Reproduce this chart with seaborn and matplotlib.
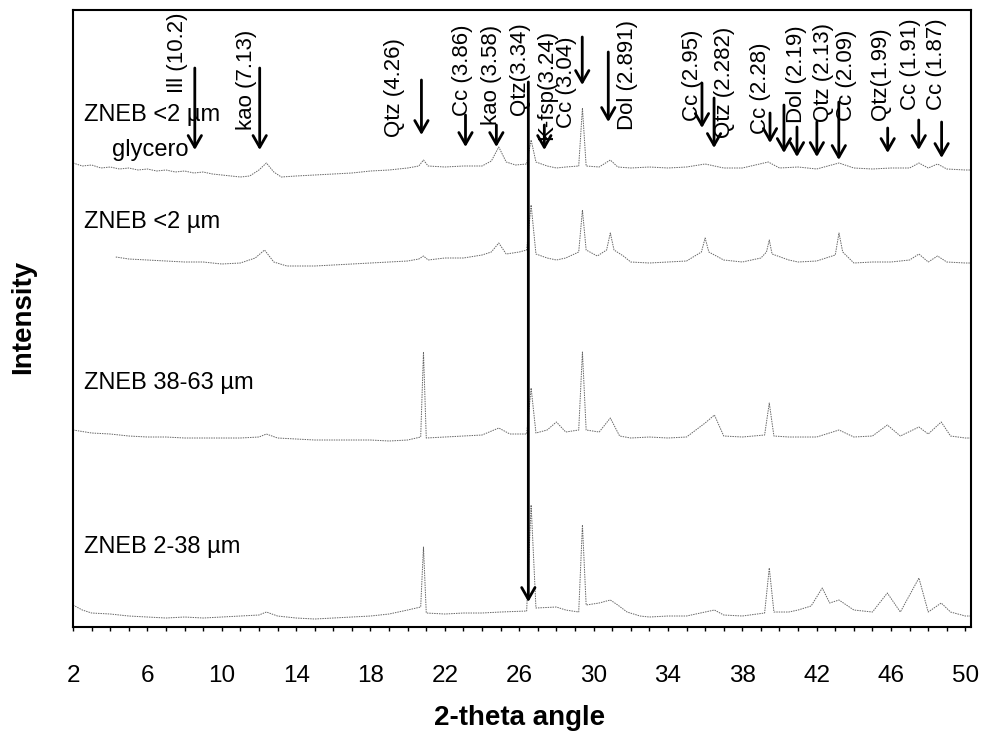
import matplotlib
matplotlib.use("Agg")
import matplotlib.pyplot as plt
import seaborn as sns
from matplotlib.ticker import MultipleLocator

# XRD patterns, stacked (arbitrary intensity units, offsets included)
tt_glycol = [2.0, 2.5, 3.0, 3.5, 4.0, 4.5, 5.0, 5.5, 6.0, 6.5, 7.0, 7.5, 8.0, 8.5, 9.0, 9.5,
             10.0, 10.5, 11.0, 11.5, 12.0, 12.4, 12.8, 13.2, 14.0, 15.0, 16.0, 17.0, 18.0, 19.0,
             20.0, 20.6, 20.85, 21.1, 22.0, 23.0, 24.0, 24.5, 24.9, 25.3, 25.8, 26.4, 26.64, 26.9,
             27.5, 28.0, 28.5, 29.2, 29.4, 29.6, 30.3, 30.9, 31.3, 32.0, 33.0, 34.0, 35.0, 36.0,
             36.5, 37.0, 38.0, 39.4, 40.0, 41.0, 42.0, 43.2, 44.0, 45.0, 46.0, 47.0, 47.5, 48.0,
             48.5, 49.0, 50.0, 50.3]
int_glycol = [464, 461, 462, 459, 460, 458, 459, 457, 458, 456, 457, 455, 456, 454, 455, 453,
              452, 451, 450, 451, 457, 464, 455, 450, 451, 452, 453, 454, 456, 457,
              459, 461, 467, 461, 460, 461, 461, 466, 480, 465, 462, 463, 487, 465,
              461, 459, 460, 461, 519, 461, 460, 467, 460, 459, 460, 459, 460, 463,
              461, 459, 459, 465, 459, 460, 458, 464, 459, 458, 459, 459, 464, 459,
              463, 458, 457, 457]

tt_clay = [4.3, 5, 6, 7, 8, 9, 10, 11, 11.8, 12.3, 12.8, 13.5, 14, 15, 16, 17, 18, 19, 20,
           20.6, 20.85, 21.1, 22, 23, 24, 24.5, 24.9, 25.3, 26, 26.4, 26.64, 26.9, 27.5, 28,
           28.5, 29.2, 29.4, 29.6, 30.2, 30.7, 30.9, 31.1, 31.6, 32, 33, 34, 35, 35.8, 36.0,
           36.2, 37, 38, 39.0, 39.3, 39.45, 39.6, 40.5, 41, 42, 43.0, 43.2, 43.4, 44, 45, 46,
           47, 47.5, 48, 48.5, 49, 50, 50.3]
int_clay = [370, 368, 367, 366, 365, 365, 363, 364, 369, 377, 365, 361, 361, 361, 362, 363, 364, 365, 366,
            368, 371, 367, 369, 369, 372, 375, 384, 373, 375, 377, 422, 373, 369, 367,
            369, 375, 417, 377, 371, 377, 394, 377, 371, 365, 364, 365, 366, 375, 389,
            375, 367, 365, 369, 375, 387, 373, 367, 365, 366, 372, 394, 375, 364, 365, 365,
            367, 373, 365, 371, 365, 364, 364]

tt_coarse = [2.0, 3, 4, 5, 6, 7, 8, 9, 10, 11, 12, 12.4, 13, 14, 15, 16, 17, 18, 19, 20,
             20.7, 20.85, 21.0, 22, 23, 24, 24.9, 25.5, 26.4, 26.64, 26.9, 27.5, 28, 28.5,
             29.2, 29.4, 29.6, 30.3, 30.9, 31.4, 32, 33, 34, 35, 36.0, 36.5, 37, 38, 39.2,
             39.45, 39.7, 40.5, 41, 42, 43.2, 44, 45, 45.8, 46.5, 47.5, 48, 48.7, 49.2, 50, 50.3]
int_coarse = [197, 194, 193, 191, 190, 190, 189, 189, 189, 189, 190, 193, 189, 188, 187, 187, 187, 187, 186, 187,
              190, 275, 189, 190, 191, 192, 199, 193, 193, 239, 194, 197, 205, 195,
              197, 275, 197, 195, 209, 191, 189, 190, 189, 190, 204, 212, 191, 190, 192,
              224, 191, 190, 190, 190, 197, 190, 191, 202, 191, 200, 193, 205, 191, 189, 189]

tt_silt = [2.0, 2.5, 3, 4, 5, 6, 7, 8, 9, 10, 11, 12, 12.4, 13, 14, 15, 16, 17, 18, 19, 20,
           20.7, 20.85, 21.0, 22, 23, 24, 25, 26.4, 26.64, 26.9, 28, 28.5, 29.2, 29.4, 29.6,
           30.3, 30.9, 31.3, 31.8, 32.5, 33, 34, 35, 36.0, 36.5, 37, 38, 39.2, 39.45, 39.7,
           40.5, 41, 41.7, 42.3, 42.7, 43.2, 44, 45, 45.8, 46.5, 47.5, 48, 48.7, 49.2, 50, 50.3]
int_silt = [22, 17, 14, 13, 11, 10, 9, 10, 9, 10, 11, 12, 15, 11, 9, 8, 9, 10, 11, 13, 17,
            20, 80, 14, 13, 14, 14, 15, 16, 122, 19, 20, 17, 15, 102, 22,
            24, 27, 22, 15, 11, 10, 11, 11, 15, 17, 12, 11, 14, 59, 15,
            15, 17, 21, 39, 24, 27, 17, 15, 34, 15, 49, 15, 24, 15, 11, 11]

traces = [(tt_glycol, int_glycol), (tt_clay, int_clay), (tt_coarse, int_coarse), (tt_silt, int_silt)]

sample_names = ["ZNEB <2 \u00b5m", "ZNEB <2 \u00b5m", "ZNEB 38-63 \u00b5m", "ZNEB 2-38 \u00b5m"]
sample_name_y = [512, 405, 244, 80]

# mineral reflections: label, label x, label top
peak_labels = ["Ill (10.2)", "kao (7.13)", "Qtz (4.26)", "Cc (3.86)", "kao (3.58)", "Qtz(3.34)",
               "K-fsp(3.24)", "Cc (3.04)", "Dol (2.891)", "Cc (2.95)", "Qtz (2.282)", "Cc (2.28)",
               "Dol (2.19)", "Qtz (2.13)", "Cc (2.09)", "Qtz(1.99)", "Cc (1.91)", "Cc (1.87)"]
peak_label_x = [7.64, 11.34, 19.29, 22.95, 24.50, 26.01, 27.45, 28.53, 31.81, 35.30, 37.02, 39.00,
                40.94, 42.39, 43.62, 45.45, 47.06, 48.46]
peak_label_top = [614, 597, 589, 602, 602, 605, 597, 590, 607, 597, 600, 584,
                  602, 604, 597, 600, 609, 609]

# arrows: x, top, tip
arrow_x = [8.55, 12.04, 20.74, 23.11, 24.77, 26.49, 27.35, 29.39, 30.79, 35.83, 36.48, 39.49,
           40.24, 40.94, 42.01, 43.19, 45.82, 47.49, 48.72]
arrow_top = [559, 559, 547, 512, 502, 545, 502, 590, 575, 544, 529, 514,
             522, 500, 505, 525, 499, 507, 505]
arrow_tip = [477, 477, 492, 480, 480, 25, 477, 542, 505, 499, 479, 484,
             474, 470, 470, 467, 474, 477, 469]

sns.set_theme(style="white")
plt.rcParams['font.family'] = ['Liberation Sans', 'DejaVu Sans']
plt.rcParams['text.color'] = 'black'
plt.rcParams['xtick.color'] = 'black'
plt.rcParams['axes.labelcolor'] = 'black'

fig = plt.figure(figsize=(9.91, 7.46), dpi=100)
ax = fig.add_axes([0.0737, 0.1595, 0.9061, 0.8271])

for tt, inten in traces:
    sns.lineplot(x=tt, y=inten, ax=ax, color='0.4', linewidth=0.7,
                 linestyle=(0, (1.5, 1.0)), estimator=None, sort=False)

for name, y in zip(sample_names, sample_name_y):
    ax.text(2.6, y, name, fontsize=17, ha='left', va='center', color='black')
ax.text(4.1, 477, "glycero", fontsize=17, ha='left', va='center', color='black')

for lab, x, top in zip(peak_labels, peak_label_x, peak_label_top):
    ax.text(x, top, lab, rotation=90, fontsize=16, ha='center', va='top', color='black')

for x, top, tip in zip(arrow_x, arrow_top, arrow_tip):
    ax.annotate('', xy=(x, tip), xytext=(x, top),
                arrowprops=dict(arrowstyle='->,head_length=0.7,head_width=0.4',
                                color='black', lw=2, shrinkA=0, shrinkB=0,
                                mutation_scale=12))

ax.set_xlim(2, 50.3)
ax.set_ylim(0, 617)
ax.set_xticks(range(2, 51, 4))
ax.xaxis.set_minor_locator(MultipleLocator(1))
ax.set_yticks([])
ax.tick_params(axis='x', which='both', bottom=True, direction='out',
               length=3, width=1, color='black', labelcolor='black', pad=24, labelsize=17.5)
for sp in ax.spines.values():
    sp.set_color('black')
    sp.set_linewidth(1.5)
ax.set_xlabel('')
ax.set_ylabel('')

fig.text(520 / 991, 1 - 718 / 746, '2-theta angle', fontsize=20, fontweight='bold',
         ha='center', va='center', color='black')
fig.text(23 / 991, 1 - 317 / 746, 'Intensity', fontsize=20, fontweight='bold',
         rotation=90, ha='center', va='center', color='black')

fig.savefig('out.png', dpi=100)
